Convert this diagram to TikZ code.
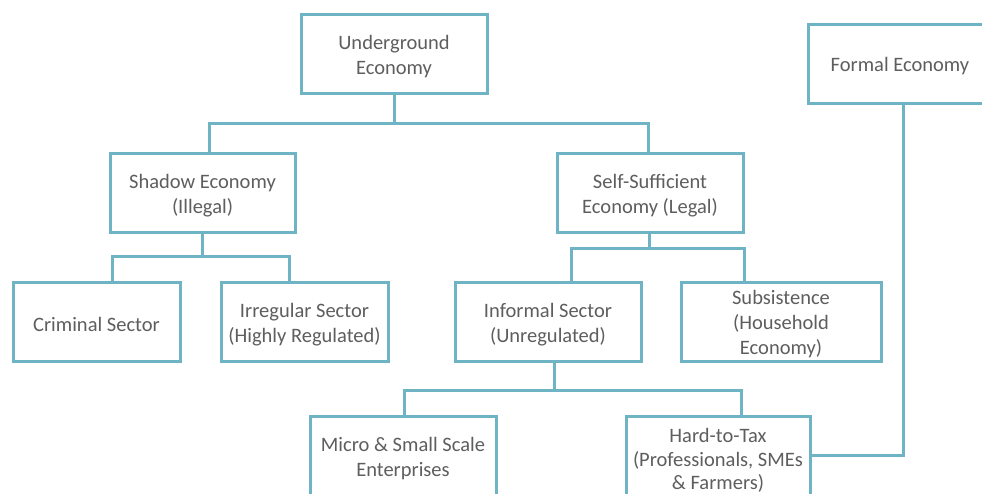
\documentclass[tikz,border=0pt]{standalone}
\usepackage{fontspec}
\setmainfont{Carlito}
\definecolor{boxline}{HTML}{6FB4C5}
\definecolor{txt}{HTML}{5E5E5E}
\begin{document}
\begin{tikzpicture}[x=1pt,y=-1pt,
  box/.style={draw=boxline,line width=3pt,fill=white,minimum height=79pt,inner sep=0pt},
  lbl/.style={inner sep=0pt,align=center,text=txt,font=\fontsize{20.5}{25}\selectfont,yshift=-3pt},
  conn/.style={draw=boxline,line width=3pt}]
\useasboundingbox (0,0) rectangle (982,493);
\begin{scope}
\clip (0,0) rectangle (982,493);
\node[box,minimum width=186pt] (ug) at (394,53.5) {};
\node[box,minimum width=184pt] (formal) at (900,63.5) {};
\node[box,minimum width=185pt] (shadow) at (202.5,192.5) {};
\node[box,minimum width=186pt] (self) at (650,192.5) {};
\node[box,minimum width=167pt] (crim) at (96.5,321.5) {};
\node[box,minimum width=167pt] (irr) at (304.5,321.5) {};
\node[box,minimum width=186pt] (inf) at (548,321.5) {};
\node[box,minimum width=200pt] (sub) at (781,321.5) {};
\node[box,minimum width=186pt] (micro) at (403,455.5) {};
\node[box,minimum width=184pt] (hard) at (718,455.5) {};

\node[lbl] (ugT) at (ug) {Underground\\Economy};
\node[lbl] (formalT) at (formal) {Formal Economy};
\node[lbl] (shadowT) at (shadow) {Shadow Economy\\(Illegal)};
\node[lbl] (selfT) at (self) {Self-Sufficient\\Economy (Legal)};
\node[lbl] (crimT) at (crim) {Criminal Sector};
\node[lbl] (irrT) at (irr) {Irregular Sector\\(Highly Regulated)};
\node[lbl] (infT) at (inf) {Informal Sector\\(Unregulated)};
\node[lbl] (subT) at (sub) {Subsistence\\(Household\\Economy)};
\node[lbl] (microT) at (micro) {Micro \& Small Scale\\Enterprises};
\node[lbl,yshift=-2pt,font=\fontsize{20.5}{23.5}\selectfont] (hardT) at (hard) {Hard-to-Tax\\(Professionals, SMEs\\\& Farmers)};

\coordinate (j1) at (394,123);
\coordinate (j2) at (202.5,256);
\coordinate (j3) at (649,248);
\coordinate (j4) at (554,390);
\coordinate (j5) at (903,455.5);

\draw[conn] (ug.south) -- (j1);
\draw[conn] ([xshift=6.5pt]shadow.north) |- (j1) -| ([xshift=-2pt]self.north);
\draw[conn] (shadow.south) -- (j2);
\draw[conn] ([xshift=15.5pt]crim.north) |- (j2) -| ([xshift=-15.5pt]irr.north);
\draw[conn] ([xshift=-1pt]self.south) -- (j3);
\draw[conn] ([xshift=23pt]inf.north) |- (j3) -| ([xshift=-37pt]sub.north);
\draw[conn] ([xshift=6pt]inf.south) -- (j4);
\draw[conn] ([xshift=1pt]micro.north) |- (j4) -| ([xshift=23pt]hard.north);
\draw[conn] ([xshift=3pt]formal.south) -- (j5) -- (hard.east|-j5);
\end{scope}
\end{tikzpicture}
\end{document}
